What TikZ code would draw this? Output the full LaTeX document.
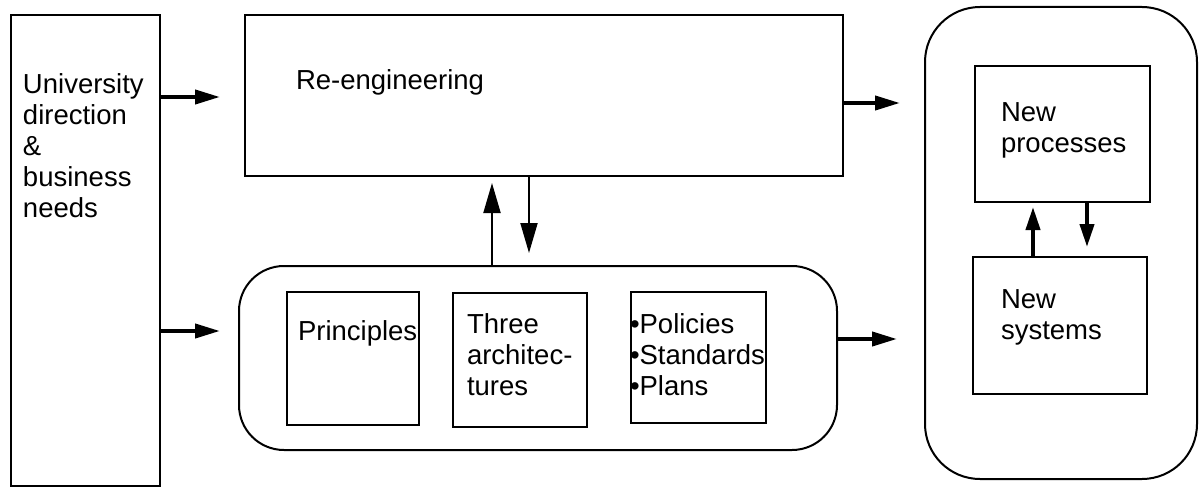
\documentclass[tikz,border=0pt]{standalone}
\usepackage{fontspec}
\setmainfont{Liberation Sans}
\usetikzlibrary{arrows.meta}
\tikzset{
  box/.style={draw, line width=2pt, rectangle, inner sep=0pt, outer sep=0pt},
  rbox/.style={box, rounded corners=#1},
  txt/.style={anchor=base west, inner sep=0pt, outer sep=0pt, align=left,
              font=\fontsize{27.5}{31}\selectfont},
  fat/.style={line width=4pt, -{Triangle[length=25pt,width=14pt]}},
  fatsmall/.style={line width=4pt, -{Triangle[length=23pt,width=14pt]}},
  thin/.style={line width=2pt, -{Triangle[length=30pt,width=17pt]}},
}
\begin{document}
\begin{tikzpicture}[x=1pt,y=-1pt]
\useasboundingbox (0,0) rectangle (1199,487);
% boxes
\node[box, minimum width=149pt, minimum height=471pt] (L) at (85.5,250.5) {};
\node[box, minimum width=598pt, minimum height=161pt] (R) at (544,95.5) {};
\node[rbox=45pt, minimum width=598pt, minimum height=184pt] (B) at (538,358) {};
\node[box, minimum width=132pt, minimum height=133pt] (P) at (353,358.5) {};
\node[box, minimum width=134pt, minimum height=134pt] (T) at (520,360) {};
\node[box, minimum width=135pt, minimum height=131pt] (Q) at (698.5,357.5) {};
\node[rbox=55pt, minimum width=272pt, minimum height=472pt] (N) at (1061,243) {};
\node[box, minimum width=175pt, minimum height=136pt] (NP) at (1062.5,134) {};
\node[box, minimum width=174pt, minimum height=137pt] (NS) at (1060,325.5) {};
% texts (base anchor = baseline of last line)
\node[txt] (Lt) at (23,217) {University\\direction\\\&\\business\\needs};
\node[txt] (Rt) at (296,89) {Re-engineering};
\node[txt] (Pt) at (298,340) {Principles};
\node[txt] (Tt) at (467,395) {Three\\architec-\\tures};
\node[txt] (Qt) at (630,395) {•Policies\\•Standards\\•Plans};
\node[txt] (NPt) at (1001,152) {New\\processes};
\node[txt] (NSt) at (1001,339) {New\\systems};
% arrow ends
\coordinate (a1) at (220,97);
\coordinate (a2) at (220,331);
\coordinate (a3) at (900,103);
\coordinate (a4) at (897,339);
\coordinate (a5) at (492,183);
\coordinate (a6) at (529,253);
\coordinate (a7) at (1033,207);
\coordinate (a8) at (1087,247);
% connectors
\draw[fat] (L.east |- a1) -- (a1);
\draw[fat] (L.east |- a2) -- (a2);
\draw[fat] (R.east |- a3) -- (a3);
\draw[fat] (B.east |- a4) -- (a4);
\draw[thin] (B.north -| a5) -- (a5);
\draw[thin] (R.south -| a6) -- (a6);
\draw[fatsmall] (NS.north -| a7) -- (a7);
\draw[fatsmall] (NP.south -| a8) -- (a8);
\end{tikzpicture}
\end{document}
